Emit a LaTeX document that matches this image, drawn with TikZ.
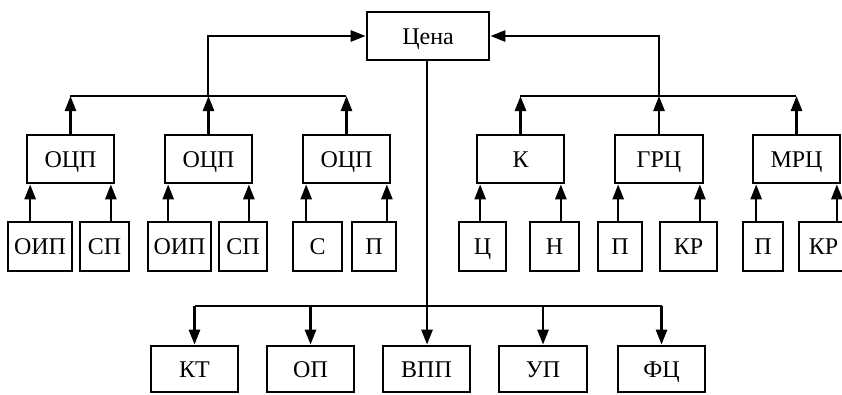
\documentclass[tikz,border=0pt]{standalone}
\usepackage{fontspec}
\setmainfont{Liberation Serif}
\usetikzlibrary{arrows.meta}
\tikzset{
  box/.style={draw, line width=2.7pt, inner sep=0pt, font=\fontsize{24}{26}\selectfont, text height=16pt, text depth=0pt},
  ln/.style={line width=2.6pt},
  arr/.style={line width=2.6pt, -{Triangle[length=15pt,width=11pt]}}
}
\newcommand\bx[6]{\node[box, minimum width={#4-#2}, minimum height={#5-#3}] (#1) at ({(#2+#4)/2},{(#3+#5)/2}) {#6};}
\begin{document}
\begin{tikzpicture}[x=1pt,y=-1pt]
\useasboundingbox (0,0) rectangle (842,394);
% top
\bx{cena}{367}{12}{489}{60}{Цена}
% middle row
\bx{ocpa}{27}{135}{114}{183}{ОЦП}
\bx{ocpb}{165}{135}{252}{183}{ОЦП}
\bx{ocpc}{303}{135}{390}{183}{ОЦП}
\bx{k}{477}{135}{564}{183}{К}
\bx{grc}{615}{135}{703}{183}{ГРЦ}
\bx{mrc}{753}{135}{840}{183}{МРЦ}
% lower row
\bx{oipa}{8}{222}{72}{271}{ОИП}
\bx{spa}{80}{222}{129}{271}{СП}
\bx{oipb}{148}{222}{211}{271}{ОИП}
\bx{spb}{219}{222}{267}{271}{СП}
\bx{s}{293}{222}{342}{271}{С}
\bx{pa}{352}{222}{396}{271}{П}
\bx{c}{459}{222}{506}{271}{Ц}
\bx{n}{530}{222}{579}{271}{Н}
\bx{pb}{598}{222}{642}{271}{П}
\bx{kra}{660}{222}{717}{271}{КР}
\bx{pc}{743}{222}{783}{271}{П}
\bx{krb}{799}{222}{848}{271}{КР}
% bottom group
\bx{kt}{151}{346}{238}{392}{КТ}
\bx{op}{267}{346}{354}{392}{ОП}
\bx{vpp}{383}{346}{470}{392}{ВПП}
\bx{up}{499}{346}{587}{392}{УП}
\bx{fc}{618}{346}{705}{392}{ФЦ}
% buses
\coordinate (lb1) at (70,96);
\coordinate (lb2) at (208,96);
\coordinate (lb3) at (346,96);
\coordinate (rb1) at (520,96);
\coordinate (rb2) at (659,96);
\coordinate (rb3) at (796,96);
\coordinate (bb) at (427,306);
\draw[ln] (lb1) -- (lb3);
\draw[ln] (rb1) -- (rb3);
\draw[arr] (lb2) |- (cena.west);
\draw[arr] (rb2) |- (cena.east);
\foreach \b/\n in {lb1/ocpa, lb2/ocpb, lb3/ocpc, rb1/k, rb2/grc, rb3/mrc}
  \draw[arr] (\n.north) -- (\n.north |- \b);
% lower arrows
\foreach \parent/\lft/\rgt in {ocpa/oipa/spa, ocpb/oipb/spb, ocpc/s/pa, k/c/n, grc/pb/kra, mrc/pc/krb}{
  \coordinate (L) at ([xshift=4.5]\parent.south west);
  \coordinate (R) at ([xshift=-4.5]\parent.south east);
  \draw[arr] (\lft.north -| L) -- (L);
  \draw[arr] (\rgt.north -| R) -- (R);
}
% bottom
\draw[arr] (cena.south -| bb) -- (vpp.north -| bb);
\draw[ln] (kt.north |- bb) -- (fc.north |- bb);
\foreach \n in {kt, op, up, fc}
  \draw[arr] (\n.north |- bb) -- (\n.north);
\end{tikzpicture}
\end{document}
